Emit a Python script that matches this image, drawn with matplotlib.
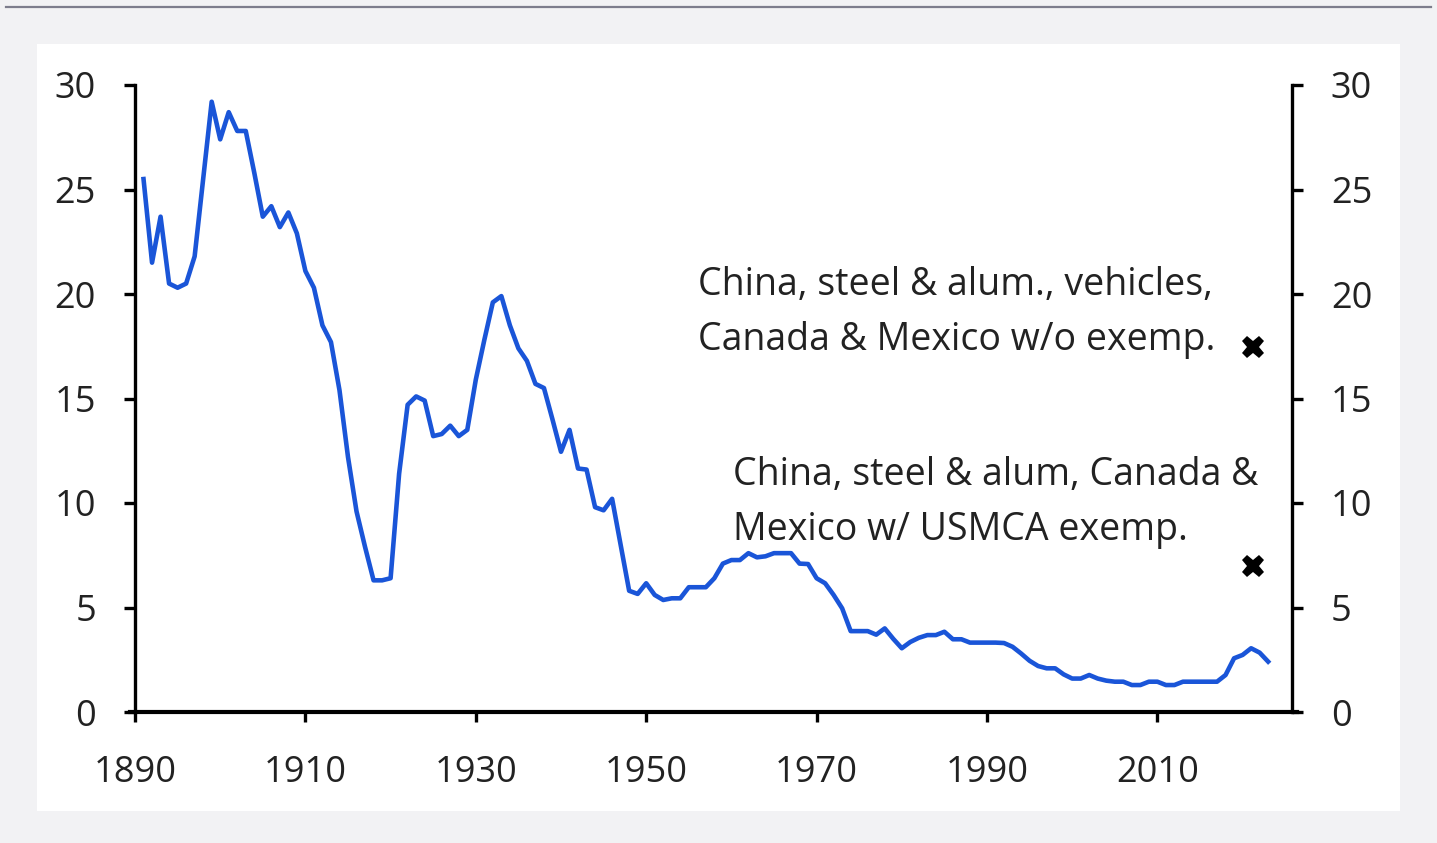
import numpy as np
import matplotlib
matplotlib.use('Agg')
import matplotlib.pyplot as plt
from matplotlib.patches import Rectangle
from matplotlib.lines import Line2D

plt.rcParams['font.family'] = ['Open Sans', 'DejaVu Sans']

# Average effective US tariff rate (%), yearly
years = list(range(1891, 2024))
tariff = [
    25.5, 21.5, 23.7, 20.5, 20.3, 20.5, 21.8, 25.5, 29.2, 27.4,   # 1891-1900
    28.7, 27.8, 27.8, 25.8, 23.7, 24.2, 23.2, 23.9, 22.9, 21.1,   # 1901-1910
    20.3, 18.5, 17.7, 15.4, 12.2, 9.6, 7.9, 6.3, 6.3, 6.4,        # 1911-1920
    11.4, 14.7, 15.1, 14.9, 13.2, 13.3, 13.7, 13.2, 13.5, 15.9,   # 1921-1930
    17.8, 19.6, 19.9, 18.5, 17.4, 16.8, 15.7, 15.5, 14.0, 12.45,  # 1931-1940
    13.5, 11.65, 11.6, 9.8, 9.65, 10.2, 8.0, 5.8, 5.65, 6.16,     # 1941-1950
    5.6, 5.36, 5.44, 5.44, 5.97, 5.97, 5.97, 6.4, 7.1, 7.27,      # 1951-1960
    7.27, 7.6, 7.4, 7.45, 7.6, 7.6, 7.6, 7.1, 7.08, 6.4,          # 1961-1970
    6.16, 5.6, 4.96, 3.87, 3.87, 3.87, 3.7, 4.0, 3.5, 3.05,       # 1971-1980
    3.35, 3.55, 3.68, 3.68, 3.84, 3.48, 3.48, 3.32, 3.32, 3.32,   # 1981-1990
    3.32, 3.3, 3.12, 2.8, 2.45, 2.2, 2.09, 2.09, 1.8, 1.6,        # 1991-2000
    1.6, 1.77, 1.6, 1.5, 1.45, 1.45, 1.29, 1.29, 1.45, 1.45,      # 2001-2010
    1.29, 1.29, 1.45, 1.45, 1.45, 1.45, 1.45, 1.77, 2.57, 2.73,   # 2011-2020
    3.05, 2.84, 2.41,                                             # 2021-2023
]

# scenario markers
scen_year = [2021.2, 2021.2]
scen_value = [17.46, 6.99]
scen_labels = ['China, steel & alum., vehicles,\nCanada & Mexico w/o exemp.',
               'China, steel & alum, Canada &\nMexico w/ USMCA exemp.']
# (x, baseline of the last line)
label_pos = [(1956.1, 17.32), (1960.2, 8.23)]

xticks = [1890, 1910, 1930, 1950, 1970, 1990, 2010]
yticks = [0, 5, 10, 15, 20, 25, 30]

fig = plt.figure(figsize=(14.37, 8.43), dpi=100)
fig.patch.set_facecolor('#f2f2f4')

# white panel + rule at the top
fig.add_artist(Rectangle((37/1437, 1-811/843), (1400-37)/1437, (811-44)/843,
                         transform=fig.transFigure, facecolor='white',
                         edgecolor='none', zorder=0))
fig.add_artist(Line2D([0.004, 0.996], [1-6.5/843, 1-6.5/843],
                      transform=fig.transFigure, color='#7d7d8c', lw=1.6))

ax = fig.add_axes([135/1437, 1-712/843, (1292-135)/1437, (712-85)/843])
ax.set_facecolor('none')

ax.plot(years, tariff, color='#1a55d8', lw=3.3, solid_joinstyle='round', clip_on=False)
ax.plot(scen_year, scen_value, linestyle='None', marker='X', color='black',
        markersize=16, markeredgewidth=0, clip_on=False)

for txt, (tx, ty) in zip(scen_labels, label_pos):
    ax.text(tx, ty, txt, fontsize=27, color='#222222', ha='left', va='baseline',
            linespacing=1.6)

ax.set_xlim(1890, 2025.8)
ax.set_ylim(0, 30)
ax.set_xticks(xticks)
ax.set_yticks(yticks)

ax.spines['top'].set_visible(False)
ax.spines['left'].set_linewidth(2.4)
ax.spines['right'].set_linewidth(2.4)
ax.spines['bottom'].set_linewidth(3)
ax.spines['bottom'].set_bounds(1889.4, 2026.4)
for s in ['left', 'right', 'bottom']:
    ax.spines[s].set_color('black')

ax.tick_params(axis='y', which='both', left=True, right=True, labelleft=True,
               labelright=True, direction='out', length=8, width=2.4,
               labelsize=26, pad=20, labelcolor='#222222')
ax.tick_params(axis='x', direction='out', length=7, width=2.4, labelsize=26,
               pad=24, labelcolor='#222222')

fig.savefig('out.png', dpi=100, facecolor=fig.get_facecolor())
